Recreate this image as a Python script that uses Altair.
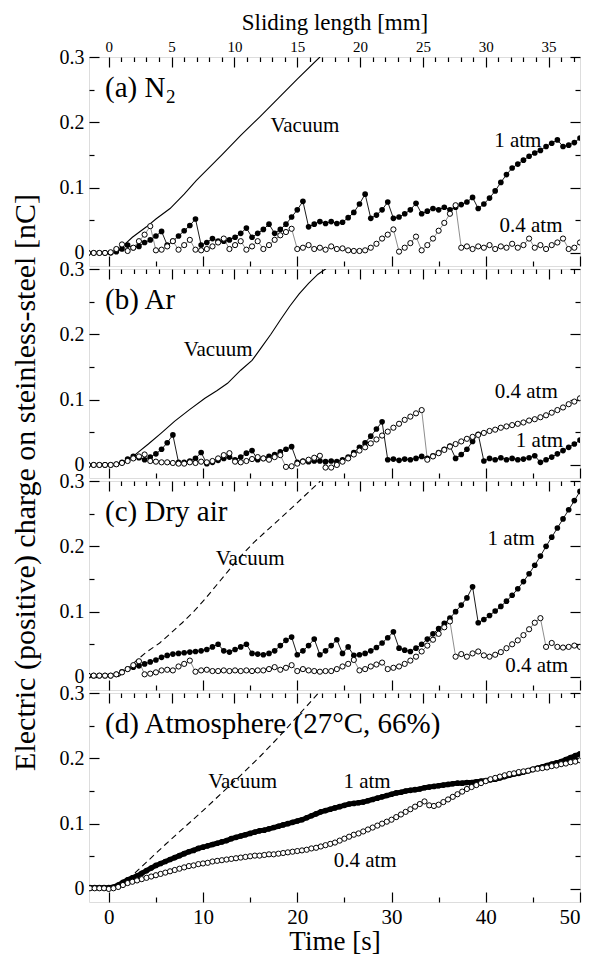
import altair as alt
import pandas as pd

FONT = "Liberation Serif, 'Times New Roman', Times, serif"

# ---------------- sample times ----------------
T6 = [-2.2, -1.6, -1.0, -0.4, 0.2, 0.8, 1.4, 2.0, 2.6, 3.2,
      3.8, 4.4, 5.0, 5.6, 6.2, 6.8, 7.4, 8.0, 8.6, 9.2,
      9.8, 10.4, 11.0, 11.6, 12.2, 12.8, 13.4, 14.0, 14.6, 15.2,
      15.8, 16.4, 17.0, 17.6, 18.2, 18.8, 19.4, 20.0, 20.6, 21.2,
      21.8, 22.4, 23.0, 23.6, 24.2, 24.8, 25.4, 26.0, 26.6, 27.2,
      27.8, 28.4, 29.0, 29.6, 30.2, 30.8, 31.4, 32.0, 32.6, 33.2,
      33.8, 34.4, 35.0, 35.6, 36.2, 36.8, 37.4, 38.0, 38.6, 39.2,
      39.8, 40.4, 41.0, 41.6, 42.2, 42.8, 43.4, 44.0, 44.6, 45.2,
      45.8, 46.4, 47.0, 47.6, 48.2, 48.8, 49.4, 50.0]

T5 = [-2.0, -1.5, -1.0, -0.5, 0.0, 0.5, 1.0, 1.5, 2.0, 2.5,
      3.0, 3.5, 4.0, 4.5, 5.0, 5.5, 6.0, 6.5, 7.0, 7.5,
      8.0, 8.5, 9.0, 9.5, 10.0, 10.5, 11.0, 11.5, 12.0, 12.5,
      13.0, 13.5, 14.0, 14.5, 15.0, 15.5, 16.0, 16.5, 17.0, 17.5,
      18.0, 18.5, 19.0, 19.5, 20.0, 20.5, 21.0, 21.5, 22.0, 22.5,
      23.0, 23.5, 24.0, 24.5, 25.0, 25.5, 26.0, 26.5, 27.0, 27.5,
      28.0, 28.5, 29.0, 29.5, 30.0, 30.5, 31.0, 31.5, 32.0, 32.5,
      33.0, 33.5, 34.0, 34.5, 35.0, 35.5, 36.0, 36.5, 37.0, 37.5,
      38.0, 38.5, 39.0, 39.5, 40.0, 40.5, 41.0, 41.5, 42.0, 42.5,
      43.0, 43.5, 44.0, 44.5, 45.0, 45.5, 46.0, 46.5, 47.0, 47.5,
      48.0, 48.5, 49.0, 49.5, 50.0]

# ---------------- (a) N2 ----------------
A_1ATM = [0, 0, 0, 0, 0, 0.002, 0.006, 0.012, 0.008, 0.010,
          0.016, 0.020, 0.026, 0.033, 0.012, 0.018, 0.026, 0.034, 0.042, 0.052,
          0.012, 0.016, 0.022, 0.018, 0.018, 0.020, 0.024, 0.030, 0.038, 0.024,
          0.030, 0.036, 0.044, 0.030, 0.036, 0.044, 0.055, 0.066, 0.079, 0.040,
          0.044, 0.048, 0.045, 0.048, 0.045, 0.047, 0.054, 0.062, 0.075, 0.090,
          0.053, 0.058, 0.066, 0.078, 0.053, 0.055, 0.060, 0.066, 0.076, 0.060,
          0.064, 0.068, 0.066, 0.070, 0.066, 0.070, 0.074, 0.078, 0.085, 0.068,
          0.075, 0.084, 0.095, 0.108, 0.120, 0.130, 0.136, 0.142, 0.148, 0.153,
          0.157, 0.163, 0.168, 0.173, 0.163, 0.165, 0.169, 0.176]
A_04ATM = [0, 0, 0, 0, 0.001, 0.006, 0.013, 0.003, 0.008, 0.018,
           0.028, 0.041, 0.004, 0.005, 0.010, 0.018, 0.005, 0.012, 0.020, 0.005,
           0.004, 0.006, 0.010, 0.016, 0.022, 0.006, 0.012, 0.018, 0.005, 0.010,
           0.018, 0.006, 0.012, 0.020, 0.027, 0.032, 0.037, 0.006, 0.008, 0.012,
           0.006, 0.008, 0.005, 0.010, 0.006, 0.007, 0.004, 0.003, 0.003, 0.004,
           0.008, 0.014, 0.022, 0.028, 0.036, 0.002, 0.008, 0.015, 0.025, 0.004,
           0.012, 0.022, 0.034, 0.046, 0.060, 0.073, 0.008, 0.010, 0.006, 0.010,
           0.008, 0.012, 0.006, 0.010, 0.008, 0.014, 0.008, 0.012, 0.022, 0.008,
           0.012, 0.006, 0.012, 0.016, 0.022, 0.006, 0.008, 0.016]
A_VAC_T = [0.5, 1.0, 1.6, 2.5, 4.0, 5.0, 6.5, 8.0, 9.3, 12.0, 14.0, 16.0, 18.0, 20.0, 22.4, 23.5]
A_VAC_V = [0.0, 0.003, 0.012, 0.024, 0.040, 0.052, 0.068, 0.090, 0.111, 0.150, 0.180, 0.208, 0.237, 0.266, 0.300, 0.316]

# ---------------- (b) Ar ----------------
B_1ATM = [0, 0, 0, 0, 0, 0.001, 0.004, 0.009, 0.013, 0.011,
          0.008, 0.012, 0.017, 0.024, 0.034, 0.046, 0.004, 0.004, 0.006, 0.010,
          0.019, 0.002, 0.004, 0.007, 0.010, 0.012, 0.008, 0.012, 0.018, 0.022,
          0.008, 0.010, 0.013, 0.016, 0.020, 0.024, 0.028, 0.004, 0.006, 0.005,
          0.006, 0.006, 0.005, 0.006, 0.005, 0.008, 0.012, 0.019, 0.027, 0.034,
          0.044, 0.055, 0.066, 0.008, 0.009, 0.007, 0.009, 0.008, 0.010, 0.013,
          0.010, 0.014, 0.019, 0.024, 0.029, 0.010, 0.016, 0.024, 0.036, 0.047,
          0.006, 0.010, 0.008, 0.011, 0.008, 0.010, 0.008, 0.009, 0.011, 0.014,
          0.004, 0.008, 0.012, 0.017, 0.022, 0.027, 0.032, 0.038]
B_04ATM = [0, 0, 0, 0, 0, 0.001, 0.003, 0.006, 0.010, 0.013,
           0.016, 0.006, 0.005, 0.004, 0.004, 0.003, 0.002, 0.002, 0.004, 0.003,
           0.005, 0.004, 0.006, 0.010, 0.015, 0.018, 0.005, 0.004, 0.006, 0.009,
           0.012, 0.010, 0.008, 0.012, 0.015, -0.003, -0.002, 0.002, 0.005, 0.008,
           0.011, 0.014, -0.004, -0.004, 0.000, 0.005, 0.010, 0.016, 0.022, 0.027,
           0.033, 0.039, 0.045, 0.051, 0.057, 0.063, 0.069, 0.074, 0.079, 0.084,
           0.008, 0.013, 0.018, 0.023, 0.028, 0.032, 0.036, 0.040, 0.043, 0.046,
           0.049, 0.052, 0.054, 0.057, 0.059, 0.061, 0.063, 0.065, 0.068, 0.070,
           0.073, 0.076, 0.080, 0.084, 0.088, 0.093, 0.097, 0.102]
B_VAC_T = [1.0, 2.0, 3.0, 4.2, 5.5, 7.0, 8.5, 10.2, 11.5, 12.6, 14.0, 15.2, 16.2, 17.2,
           18.2, 19.2, 20.2, 21.2, 22.2, 23.0, 24.0]
B_VAC_V = [0.0, 0.006, 0.018, 0.032, 0.048, 0.067, 0.084, 0.102, 0.114, 0.125, 0.145, 0.160,
           0.180, 0.200, 0.222, 0.243, 0.262, 0.278, 0.292, 0.300, 0.312]

# ---------------- (c) Dry air ----------------
C_1ATM = [0.002, 0.002, 0.002, 0.002, 0.002, 0.004, 0.008, 0.012, 0.015, 0.017,
          0.020, 0.023, 0.026, 0.030, 0.033, 0.035, 0.036, 0.037, 0.038, 0.039,
          0.040, 0.042, 0.046, 0.050, 0.040, 0.038, 0.042, 0.046, 0.050, 0.036,
          0.035, 0.034, 0.036, 0.040, 0.048, 0.056, 0.061, 0.034, 0.040, 0.048,
          0.058, 0.034, 0.040, 0.048, 0.057, 0.036, 0.046, 0.033, 0.034, 0.036,
          0.040, 0.045, 0.052, 0.060, 0.069, 0.044, 0.041, 0.039, 0.044, 0.050,
          0.058, 0.066, 0.074, 0.082, 0.090, 0.100, 0.110, 0.121, 0.138, 0.083,
          0.088, 0.094, 0.101, 0.108, 0.116, 0.125, 0.135, 0.146, 0.158, 0.171,
          0.185, 0.200, 0.214, 0.228, 0.242, 0.256, 0.270, 0.284]
C_04ATM = [0.002, 0.002, 0.002, 0.002, 0.002, 0.004, 0.007, 0.012, 0.018, 0.024,
           0.004, 0.005, 0.007, 0.010, 0.011, 0.010, 0.016, 0.020, 0.025, 0.008,
           0.010, 0.011, 0.009, 0.009, 0.010, 0.009, 0.010, 0.009, 0.010, 0.009,
           0.010, 0.010, 0.012, 0.015, 0.011, 0.014, 0.018, 0.009, 0.012, 0.010,
           0.009, 0.008, 0.009, 0.009, 0.012, 0.016, 0.020, 0.026, 0.010, 0.012,
           0.016, 0.019, 0.022, 0.012, 0.014, 0.016, 0.020, 0.025, 0.031, 0.039,
           0.048, 0.057, 0.066, 0.076, 0.085, 0.031, 0.035, 0.031, 0.036, 0.039,
           0.033, 0.031, 0.034, 0.038, 0.044, 0.050, 0.056, 0.064, 0.073, 0.083,
           0.090, 0.046, 0.052, 0.046, 0.045, 0.046, 0.048, 0.046]
C_VAC_T = [1.0, 2.0, 3.0, 4.0, 5.4, 6.5, 7.8, 9.0, 10.2, 11.4, 12.6, 14.0, 15.4, 16.6,
           18.0, 19.8, 21.2, 22.6, 23.5]
C_VAC_V = [0.0, 0.012, 0.026, 0.038, 0.052, 0.066, 0.083, 0.100, 0.119, 0.140, 0.161, 0.185,
           0.206, 0.222, 0.240, 0.264, 0.283, 0.302, 0.315]

# ---------------- (d) Atmosphere ----------------
D_1ATM = [0.002, 0.002, 0.002, 0.002, 0.002, 0.003, 0.006, 0.010, 0.014, 0.017,
          0.020, 0.024, 0.028, 0.032, 0.036, 0.039, 0.042, 0.045, 0.048, 0.051,
          0.054, 0.057, 0.059, 0.062, 0.064, 0.066, 0.068, 0.070, 0.072, 0.074,
          0.077, 0.079, 0.081, 0.083, 0.085, 0.087, 0.089, 0.090, 0.092, 0.094,
          0.096, 0.098, 0.100, 0.102, 0.104, 0.106, 0.109, 0.112, 0.115, 0.118,
          0.120, 0.122, 0.124, 0.126, 0.128, 0.130, 0.131, 0.132, 0.133, 0.135,
          0.137, 0.139, 0.141, 0.143, 0.145, 0.147, 0.148, 0.150, 0.151, 0.152,
          0.153, 0.155, 0.156, 0.157, 0.158, 0.159, 0.160, 0.161, 0.162, 0.162,
          0.163, 0.163, 0.164, 0.165, 0.166, 0.167, 0.168, 0.170, 0.172, 0.174,
          0.176, 0.177, 0.179, 0.181, 0.183, 0.185, 0.187, 0.189, 0.191, 0.193,
          0.195, 0.198, 0.201, 0.204, 0.207]
D_04ATM = [0.001, 0.001, 0.001, 0.001, 0.000, 0.001, 0.003, 0.006, 0.009, 0.011,
           0.013, 0.015, 0.017, 0.019, 0.021, 0.023, 0.025, 0.027, 0.029, 0.031,
           0.033, 0.035, 0.036, 0.038, 0.039, 0.040, 0.042, 0.043, 0.044, 0.045,
           0.046, 0.047, 0.048, 0.049, 0.050, 0.051, 0.051, 0.052, 0.053, 0.053,
           0.054, 0.055, 0.056, 0.057, 0.058, 0.059, 0.060, 0.062, 0.063, 0.065,
           0.067, 0.069, 0.071, 0.074, 0.077, 0.080, 0.083, 0.085, 0.088, 0.091,
           0.094, 0.097, 0.100, 0.103, 0.106, 0.110, 0.114, 0.118, 0.122, 0.126,
           0.130, 0.134, 0.128, 0.127, 0.129, 0.133, 0.137, 0.141, 0.145, 0.149,
           0.153, 0.156, 0.159, 0.162, 0.165, 0.168, 0.170, 0.172, 0.174, 0.176,
           0.177, 0.179, 0.180, 0.181, 0.183, 0.184, 0.185, 0.186, 0.188, 0.189,
           0.191, 0.192, 0.194, 0.195, 0.197]
D_VAC_T = [1.2, 2.3, 4.0, 6.0, 8.0, 10.0, 12.0, 14.0, 16.0, 18.0, 20.0, 22.0, 23.0]
D_VAC_V = [0.004, 0.018, 0.041, 0.068, 0.094, 0.120, 0.147, 0.174, 0.202, 0.232, 0.264, 0.296, 0.312]

# ---------------- annotations ----------------
PANEL_NAMES = ["(a) N", "(b) Ar", "(c) Dry air", "(d) Atmosphere (27°C, 66%)"]
NOTES = {
    "a": (["Vacuum", "1 atm", "0.4 atm"], [20.8, 43.4, 44.8], [0.194, 0.172, 0.042]),
    "b": (["Vacuum", "0.4 atm", "1 atm"], [11.6, 44.3, 45.7], [0.176, 0.112, 0.036]),
    "c": (["Vacuum", "1 atm", "0.4 atm"], [15.0, 42.7, 45.4], [0.180, 0.211, 0.017]),
    "d": (["Vacuum", "1 atm", "0.4 atm"], [14.2, 27.4, 27.2], [0.164, 0.164, 0.043]),
}

# ---------------- axes ----------------
Y_MAJOR = [0, 0.1, 0.2, 0.3]
Y_MINOR = [0.05, 0.15, 0.25]
T_MAJOR = [0, 10, 20, 30, 40, 50]
T_MINOR = [5, 15, 25, 35, 45]
MM_MAJOR = [0, 5, 10, 15, 20, 25, 30, 35]
MM_MINOR = [1, 2, 3, 4, 6, 7, 8, 9, 11, 12, 13, 14, 16, 17, 18, 19, 21, 22, 23, 24,
            26, 27, 28, 29, 31, 32, 33, 34, 36, 37]
MM_PER_S = 0.75

XDOM = [-2.1, 50]
YDOM = [-0.02, 0.3]
W, H = 491, 209


def sx():
    return alt.Scale(domain=XDOM, nice=False, zero=False)


def sy():
    return alt.Scale(domain=YDOM, nice=False, zero=False)


ANCHOR = pd.DataFrame({"t": [0.0], "v": [0.0]})


def tick_axis(orient, values, size):
    return alt.Axis(orient=orient, values=values, tickSize=size, offset=-size,
                    labels=False, domain=False, grid=False, title=None,
                    tickColor="black", tickWidth=1.2, minExtent=0, maxExtent=size)


def axis_layer(xaxis, yaxis):
    return alt.Chart(ANCHOR).mark_point(opacity=0).encode(
        x=alt.X("t:Q", scale=sx(), axis=xaxis),
        y=alt.Y("v:Q", scale=sy(), axis=yaxis))


LEFT_LABELS = alt.Axis(orient="left", values=Y_MAJOR, ticks=False, domain=False, grid=False,
                       title=None, labelFont=FONT, labelFontSize=20, labelPadding=5,
                       labelColor="black", minExtent=0,
                       labelExpr="datum.value == 0 ? '0' : format(datum.value, '.1f')")

TOP_LABELS = alt.Axis(orient="top", values=[m / MM_PER_S for m in MM_MAJOR], ticks=False,
                      domain=False, grid=False, labelFont=FONT, labelFontSize=15,
                      labelPadding=3, labelColor="black",
                      labelExpr="format(datum.value * %s, '.0f')" % MM_PER_S,
                      title="Sliding length [mm]", titleFont=FONT, titleFontSize=23,
                      titleFontWeight="normal", titlePadding=5, titleColor="black")

BOTTOM_LABELS = alt.Axis(orient="bottom", values=T_MAJOR, ticks=False, domain=False,
                         grid=False, labelFont=FONT, labelFontSize=21, labelPadding=4,
                         labelColor="black", title="Time [s]", titleFont=FONT,
                         titleFontSize=27, titleFontWeight="normal", titlePadding=1,
                         titleColor="black")


def enc(chart):
    return chart.encode(x=alt.X("t:Q", scale=sx(), axis=None),
                        y=alt.Y("v:Q", scale=sy(), axis=None))


def panel(key, name, vac_t, vac_v, dashed, t_grid, one, four, extra_axis, band=False, sub=None):
    layers = [
        axis_layer(tick_axis("bottom", T_MAJOR, 10), LEFT_LABELS),
        axis_layer(tick_axis("bottom", T_MINOR, 5), tick_axis("left", Y_MAJOR, 10)),
        axis_layer(tick_axis("top", [m / MM_PER_S for m in MM_MAJOR], 10), tick_axis("left", Y_MINOR, 5)),
        axis_layer(tick_axis("top", [m / MM_PER_S for m in MM_MINOR], 4.5), tick_axis("right", Y_MAJOR, 10)),
        axis_layer(extra_axis, tick_axis("right", Y_MINOR, 5)),
    ]
    vac_df = pd.DataFrame({"t": vac_t, "v": vac_v})
    if dashed:
        vac = alt.Chart(vac_df).mark_line(color="black", strokeWidth=1.1, clip=True, strokeDash=[6, 4])
    else:
        vac = alt.Chart(vac_df).mark_line(color="black", strokeWidth=1.1, clip=True)
    layers.append(enc(vac))

    one_df = pd.DataFrame({"t": t_grid, "v": one})
    four_df = pd.DataFrame({"t": t_grid, "v": four})
    if band:
        layers.append(enc(alt.Chart(one_df).mark_line(color="black", strokeWidth=5, clip=True)))
    else:
        layers.append(enc(alt.Chart(one_df).mark_line(color="black", strokeWidth=0.9, clip=True)))
    layers.append(enc(alt.Chart(four_df).mark_line(color="#808080", strokeWidth=0.9, clip=True)))
    layers.append(enc(alt.Chart(one_df).mark_circle(color="black", size=32, opacity=1, clip=True)))
    layers.append(enc(alt.Chart(four_df).mark_circle(color="white", stroke="black", strokeWidth=1,
                                                     size=27, opacity=1, clip=True)))

    labels, lt, lv = NOTES[key]
    note_df = pd.DataFrame({"t": lt, "v": lv, "s": labels})
    layers.append(enc(alt.Chart(note_df).mark_text(font=FONT, fontSize=21, color="black",
                                                   align="center", baseline="middle"))
                  .encode(text="s:N"))
    name_df = pd.DataFrame({"t": [-0.4], "v": [0.239], "s": [name]})
    layers.append(enc(alt.Chart(name_df).mark_text(font=FONT, fontSize=29, color="black",
                                                   align="left", baseline="alphabetic"))
                  .encode(text="s:N"))
    if sub:
        sub_df = pd.DataFrame({"t": [-0.4], "v": [0.239], "s": [sub]})
        layers.append(enc(alt.Chart(sub_df).mark_text(font=FONT, fontSize=19, color="black",
                                                      align="left", baseline="alphabetic",
                                                      dx=61, dy=6))
                      .encode(text="s:N"))
    return alt.layer(*layers).resolve_axis(x="independent", y="independent").properties(width=W, height=H)


pa = panel("a", PANEL_NAMES[0], A_VAC_T, A_VAC_V, False, T6, A_1ATM, A_04ATM, TOP_LABELS, sub="2")
pb = panel("b", PANEL_NAMES[1], B_VAC_T, B_VAC_V, False, T6, B_1ATM, B_04ATM, None)
pc = panel("c", PANEL_NAMES[2], C_VAC_T, C_VAC_V, True, T6, C_1ATM, C_04ATM, None)
pd_ = panel("d", PANEL_NAMES[3], D_VAC_T, D_VAC_V, True, T5, D_1ATM, D_04ATM, BOTTOM_LABELS, band=True)

chart = alt.vconcat(
    pa, pb, pc, pd_, spacing=3, bounds="flush",
    title=alt.TitleParams(text="Electric (positive) charge on steinless-steel [nC]", orient="left",
                          anchor="middle", font=FONT, fontSize=30, fontWeight="normal",
                          color="black", offset=18),
).configure_view(stroke="black", strokeWidth=1.3).configure(
    padding={"left": 2, "right": 2, "top": 2, "bottom": 2})

chart.save("out.html", embed_options={"renderer": "svg", "actions": False})
